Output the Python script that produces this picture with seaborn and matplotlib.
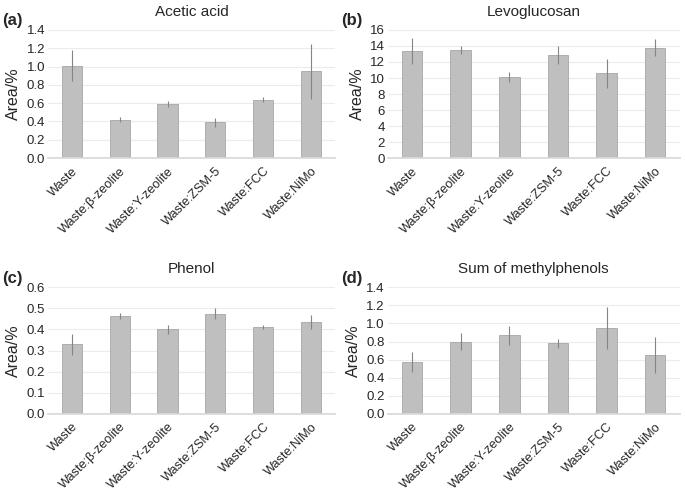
import numpy as np
import matplotlib
matplotlib.use("Agg")
import matplotlib.pyplot as plt
import seaborn as sns

# =====================================================
# DATA
# =====================================================

categories = ["Waste", "Waste:β-zeolite", "Waste:Y-zeolite",
              "Waste:ZSM-5", "Waste:FCC", "Waste:NiMo"]

acetic_mean = [1.01, 0.42, 0.59, 0.39, 0.64, 0.95]
acetic_err = [0.17, 0.03, 0.03, 0.05, 0.03, 0.30]

levo_mean = [13.4, 13.5, 10.1, 12.9, 10.6, 13.8]
levo_err = [1.6, 0.5, 0.65, 1.1, 1.8, 1.1]

phenol_mean = [0.33, 0.465, 0.40, 0.475, 0.41, 0.435]
phenol_err = [0.05, 0.015, 0.02, 0.025, 0.01, 0.035]

methyl_mean = [0.57, 0.80, 0.87, 0.78, 0.95, 0.65]
methyl_err = [0.11, 0.09, 0.105, 0.05, 0.23, 0.20]

titles = ["Acetic acid", "Levoglucosan", "Phenol", "Sum of methylphenols"]
letters = ["(a)", "(b)", "(c)", "(d)"]
yticks = [np.arange(0, 1.41, 0.2), np.arange(0, 17, 2),
          np.arange(0, 0.61, 0.1), np.arange(0, 1.41, 0.2)]
yfmt = ["{:.1f}", "{:.0f}", "{:.1f}", "{:.1f}"]

# =====================================================
# SETTINGS
# =====================================================

sns.set_theme(style="white")
plt.rcParams["font.family"] = ["Liberation Sans", "DejaVu Sans"]

fig = plt.figure(figsize=(6.85, 4.91), dpi=100)

# axes boxes in figure fractions: left, bottom, width, height
boxes = [
    [0.070, 0.678, 0.419, 0.261],
    [0.566, 0.678, 0.426, 0.261],
    [0.070, 0.157, 0.419, 0.258],
    [0.566, 0.157, 0.426, 0.258],
]

series = [(acetic_mean, acetic_err), (levo_mean, levo_err),
          (phenol_mean, phenol_err), (methyl_mean, methyl_err)]

for i, (mean, err) in enumerate(series):
    ax = fig.add_axes(boxes[i])

    sns.barplot(
        x=categories,
        y=mean,
        color="#bfbfbf",
        edgecolor="#a6a6a6",
        linewidth=0.6,
        width=0.42,
        saturation=1,
        ax=ax
    )

    ax.errorbar(
        np.arange(len(categories)),
        mean,
        yerr=err,
        fmt="none",
        ecolor="#858585",
        elinewidth=0.8,
        capsize=0
    )

    ax.set_ylim(yticks[i][0], yticks[i][-1])
    ax.set_yticks(yticks[i])
    ax.set_yticklabels([yfmt[i].format(v) for v in yticks[i]], fontsize=9.5)
    ax.yaxis.grid(True, color="#ececec", linewidth=0.8)
    ax.set_axisbelow(True)

    for s in ["top", "right", "left"]:
        ax.spines[s].set_visible(False)
    ax.spines["bottom"].set_color("#d9d9d9")

    ax.set_xlim(-0.5, len(categories) - 0.5)
    ax.set_xticks(np.arange(len(categories)))
    ax.set_xticklabels(categories, rotation=45, ha="right",
                       rotation_mode="anchor", fontsize=9.2)
    ax.tick_params(axis="y", length=0, pad=2)
    ax.tick_params(axis="x", length=0, pad=5)

    ax.set_ylabel("Area/%", fontsize=11.5, labelpad=4)
    ax.set_title(titles[i], fontsize=11, pad=10)

    ax.text(-0.16, 1.07, letters[i], transform=ax.transAxes,
            fontsize=12, fontweight="bold", ha="left", va="center")

fig.savefig("out.png", dpi=100)
